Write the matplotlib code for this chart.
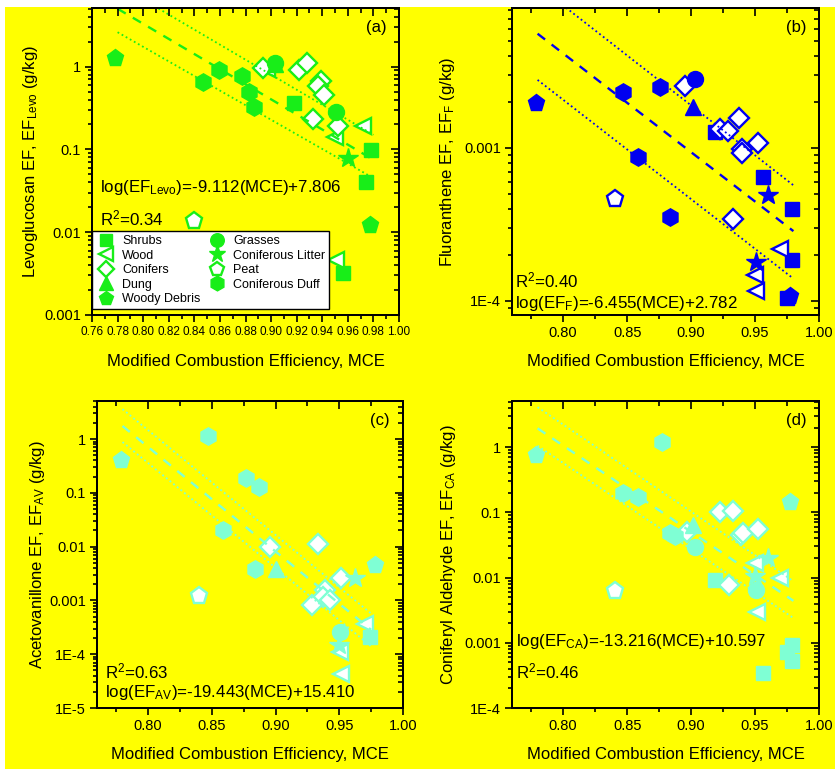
import numpy as np
import matplotlib
matplotlib.use('Agg')
import matplotlib.pyplot as plt
from matplotlib.patches import Rectangle
from matplotlib.ticker import MultipleLocator, LogLocator, FuncFormatter, NullFormatter

plt.rcParams['font.family'] = ['Liberation Sans', 'DejaVu Sans']
plt.rcParams['mathtext.default'] = 'regular'

#%% data (MCE, EF in g/kg)

categories = ['Shrubs', 'Wood', 'Conifers', 'Dung', 'Woody Debris',
              'Grasses', 'Coniferous Litter', 'Peat', 'Coniferous Duff']

levo = {
    'Shrubs': ([0.918, 0.978, 0.974, 0.956], [0.36, 0.099, 0.040, 0.0032]),
    'Wood': ([0.897, 0.972, 0.950, 0.951], [0.93, 0.19, 0.14, 0.0046]),
    'Conifers': ([0.894, 0.922, 0.928, 0.939, 0.937, 0.941, 0.933, 0.9525],
                 [0.95, 0.92, 1.1, 0.665, 0.58, 0.46, 0.23, 0.19]),
    'Dung': ([0.903], [1.08]),
    'Woody Debris': ([0.778, 0.977], [1.27, 0.0123]),
    'Grasses': ([0.903, 0.951], [1.11, 0.28]),
    'Coniferous Litter': ([0.960], [0.079]),
    'Peat': ([0.840], [0.0135]),
    'Coniferous Duff': ([0.847, 0.859, 0.877, 0.883, 0.8865], [0.646, 0.92, 0.78, 0.50, 0.325]),
}

fluor = {
    'Shrubs': ([0.9186, 0.9565, 0.9786, 0.9786, 0.975], [0.00127, 6.46e-4, 4.0e-4, 1.85e-4, 1.04e-4]),
    'Wood': ([0.9695, 0.950, 0.951], [2.17e-4, 1.47e-4, 1.16e-4]),
    'Conifers': ([0.8952, 0.9226, 0.9291, 0.9377, 0.9395, 0.9395, 0.9525, 0.933],
                 [0.00253, 0.00132, 0.00129, 0.00156, 9.9e-4, 9.3e-4, 0.00107, 3.45e-4]),
    'Dung': ([0.9012], [0.00185]),
    'Woody Debris': ([0.7791, 0.9773], [0.00195, 1.07e-4]),
    'Grasses': ([0.903], [0.0028]),
    'Coniferous Litter': ([0.9604, 0.9505], [4.9e-4, 1.8e-4]),
    'Peat': ([0.8404], [4.67e-4]),
    'Coniferous Duff': ([0.8469, 0.8756, 0.8587, 0.8834], [0.00232, 0.0025, 8.7e-4, 3.54e-4]),
}

acetov = {
    'Shrubs': ([0.9744], [2.1e-4]),
    'Wood': ([0.9699, 0.9503, 0.9516], [3.7e-4, 1.1e-4, 4.2e-5]),
    'Conifers': ([0.8954, 0.9333, 0.9516, 0.9386, 0.9373, 0.9425, 0.9289],
                 [0.0099, 0.0114, 0.0026, 0.00155, 0.00116, 0.0010, 8.1e-4]),
    'Dung': ([0.9007], [0.0038]),
    'Woody Debris': ([0.7786, 0.9778], [0.407, 0.0045]),
    'Grasses': ([0.9508], [2.6e-4]),
    'Coniferous Litter': ([0.962, 0.950], [0.0026, 1.5e-4]),
    'Peat': ([0.840], [0.00121]),
    'Coniferous Duff': ([0.8471, 0.8771, 0.8871, 0.8588, 0.8837], [1.14, 0.19, 0.13, 0.0202, 0.0039]),
}

conald = {
    'Shrubs': ([0.9186, 0.9786, 0.9747, 0.9786, 0.9565], [0.0092, 9.2e-4, 7.3e-4, 5.2e-4, 3.4e-4]),
    'Wood': ([0.9499, 0.9695, 0.9512], [0.0165, 0.0099, 0.0030]),
    'Conifers': ([0.8965, 0.9226, 0.933, 0.9387, 0.9408, 0.952, 0.9299],
                 [0.050, 0.103, 0.105, 0.045, 0.048, 0.0556, 0.0077]),
    'Dung': ([0.9012], [0.064]),
    'Woody Debris': ([0.7786, 0.9773], [0.745, 0.143]),
    'Grasses': ([0.9033, 0.9507], [0.0298, 0.0064]),
    'Coniferous Litter': ([0.9604, 0.9499], [0.0202, 0.0107]),
    'Peat': ([0.8404], [0.0062]),
    'Coniferous Duff': ([0.8769, 0.8469, 0.8587, 0.8834, 0.8874], [1.19, 0.196, 0.169, 0.0477, 0.044]),
}

# fit line and the two dotted bands, end points (MCE, EF)
levo_fit = ([0.78, 0.98], [5.0, 0.075], [9.8, 0.15], [2.6, 0.045])
fluor_fit = ([0.78, 0.98], [0.00557, 2.86e-4], [0.0115, 5.7e-4], [0.00278, 1.40e-4])
acetov_fit = ([0.78, 0.975], [1.75, 2.84e-4], [3.6, 5.7e-4], [0.88, 1.4e-4])
conald_fit = ([0.78, 0.98], [1.94, 0.0044], [4.1, 0.0088], [1.05, 0.0024])

#%% styles

yellow = '#FFFF00'
markers = {'Shrubs': ('s', 10.5, True), 'Wood': ('<', 11.5, False), 'Conifers': ('D', 10, False),
           'Dung': ('^', 11.5, True), 'Woody Debris': ('p', 12.5, True), 'Grasses': ('o', 11.5, True),
           'Coniferous Litter': ('*', 14.5, True), 'Peat': ('p', 12.5, False),
           'Coniferous Duff': ('h', 12.5, True)}


def fmt_log(v, pos):
    if v < 0.001:
        return '1E%d' % int(round(np.log10(v)))
    return '%g' % v


def set_y_log_ticks(axis):
    axis.set_major_locator(LogLocator(base=10))
    axis.set_minor_locator(LogLocator(base=10, subs=np.arange(2, 10)))
    axis.set_minor_formatter(NullFormatter())


def panel(ax, data, fit, color, ylim, ylabel, tag, eq, r2, eq_pos, r2_pos, ylab_x, xmajor, xminor,
          xlabsize=10.5):
    ax.set_facecolor(yellow)
    for c in categories:
        m, ms, filled = markers[c]
        xs, ys = data[c]
        if filled:
            ax.plot(xs, ys, m, ms=ms, mfc=color, mec=color, mew=1, label=c, zorder=2)
        else:
            ax.plot(xs, ys, m, ms=ms, mfc='white', mec=color, mew=1.7, label=c, zorder=2)
    fx, fy, fup, flo = fit
    ax.plot(fx, fy, color=color, lw=1.7, dashes=(4, 3.5), zorder=3)
    ax.plot(fx, fup, color=color, lw=1.3, dashes=(1, 1.6), zorder=3)
    ax.plot(fx, flo, color=color, lw=1.3, dashes=(1, 1.6), zorder=3)

    ax.set_yscale('log')
    ax.set_xlim(0.76, 1.00)
    ax.set_ylim(*ylim)
    ax.xaxis.set_major_locator(MultipleLocator(xmajor))
    ax.xaxis.set_minor_locator(MultipleLocator(xminor))
    ax.xaxis.set_major_formatter(FuncFormatter(lambda v, p: '%.2f' % v))
    set_y_log_ticks(ax.yaxis)
    ax.yaxis.set_major_formatter(FuncFormatter(fmt_log))
    ax.tick_params(which='both', direction='out', labelsize=10.5, width=1.2, pad=3)
    ax.tick_params(axis='x', labelsize=xlabsize)
    ax.tick_params(which='major', length=5)
    ax.tick_params(which='minor', length=3)
    for s in ax.spines.values():
        s.set_linewidth(1.3)

    # inward ticks on top and right, like the original
    tx = ax.twiny()
    tx.set_xlim(ax.get_xlim())
    tx.xaxis.set_major_locator(MultipleLocator(xmajor))
    tx.xaxis.set_minor_locator(MultipleLocator(xminor))
    tx.tick_params(which='both', direction='in', labeltop=False, width=1.2)
    tx.tick_params(which='major', length=6)
    tx.tick_params(which='minor', length=3.5)
    ty = ax.twinx()
    ty.set_yscale('log')
    ty.set_ylim(*ylim)
    set_y_log_ticks(ty.yaxis)
    ty.tick_params(which='both', direction='in', labelright=False, width=1.2)
    ty.tick_params(which='major', length=6)
    ty.tick_params(which='minor', length=3.5)
    for t in (tx, ty):
        for s in t.spines.values():
            s.set_linewidth(1.3)

    ax.set_xlabel('Modified Combustion Efficiency, MCE', fontsize=12)
    ax.xaxis.set_label_coords(0.5, -0.127)
    ax.set_ylabel(ylabel, fontsize=12)
    ax.yaxis.set_label_coords(ylab_x, 0.5)
    ax.text(0.925, 0.935, tag, transform=ax.transAxes, fontsize=12, ha='center', va='center')
    ax.text(eq_pos[0], eq_pos[1], eq, transform=ax.transAxes, fontsize=12.2, ha='left', va='center')
    ax.text(r2_pos[0], r2_pos[1], r2, transform=ax.transAxes, fontsize=12.2, ha='left', va='center')
    return ax


fig = plt.figure(figsize=(8.35, 7.69), dpi=100, facecolor='white')
fig.add_artist(Rectangle((5 / 835, 0), 1, 762 / 769, transform=fig.transFigure,
                         facecolor=yellow, edgecolor='none', zorder=-10))

ax_a = fig.add_axes([92 / 835, 454 / 769, 307 / 835, 307 / 769])
ax_b = fig.add_axes([512 / 835, 454 / 769, 307 / 835, 307 / 769])
ax_c = fig.add_axes([97 / 835, 61 / 769, 306 / 835, 307 / 769])
ax_d = fig.add_axes([512 / 835, 61 / 769, 307 / 835, 307 / 769])

green = '#18EE18'
blue = '#0000F0'
aqua = '#7FFFD4'

# panel (a) has a tick label every 0.02, smaller font so they stay apart
panel(ax_a, levo, levo_fit, green, (0.001, 5.1), 'Levoglucosan EF, EF$_{Levo}$ (g/kg)', '(a)',
      'log(EF$_{Levo}$)=-9.112(MCE)+7.806', 'R$^2$=0.34', (0.026, 0.414), (0.026, 0.316),
      -0.170, 0.02, 0.01, xlabsize=8.5)
panel(ax_b, fluor, fluor_fit, blue, (8.1e-5, 8.2e-3), 'Fluoranthene EF, EF$_F$ (g/kg)', '(b)',
      'log(EF$_F$)=-6.455(MCE)+2.782', 'R$^2$=0.40', (0.01, 0.039), (0.01, 0.114),
      -0.180, 0.05, 0.025)
panel(ax_c, acetov, acetov_fit, aqua, (1e-5, 5.1), 'Acetovanillone EF, EF$_{AV}$ (g/kg)', '(c)',
      'log(EF$_{AV}$)=-19.443(MCE)+15.410', 'R$^2$=0.63', (0.026, 0.049), (0.026, 0.12),
      -0.163, 0.05, 0.025)
panel(ax_d, conald, conald_fit, aqua, (1e-4, 5.1), 'Coniferyl Aldehyde EF, EF$_{CA}$ (g/kg)', '(d)',
      'log(EF$_{CA}$)=-13.216(MCE)+10.597', 'R$^2$=0.46', (0.013, 0.215), (0.013, 0.12),
      -0.176, 0.05, 0.025)

leg = ax_a.legend(loc='lower left', bbox_to_anchor=(0, 0.02), ncol=2, fontsize=9,
                  borderaxespad=0, fancybox=False, framealpha=1, edgecolor='black',
                  handletextpad=0.5, columnspacing=0.5, labelspacing=0.2,
                  borderpad=0.3, markerscale=0.85, handlelength=1.6)
leg.get_frame().set_linewidth(1.0)
leg.set_zorder(5)

fig.savefig('out.png', dpi=100, facecolor=fig.get_facecolor())
